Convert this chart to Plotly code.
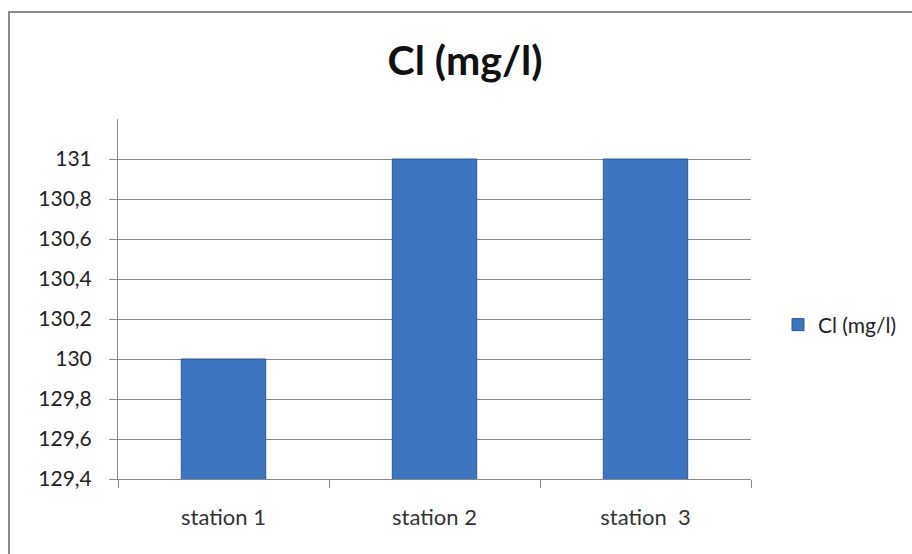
import plotly.graph_objects as go

# data
stations = ["station 1", "station 2", "station\u00a0\u00a03"]
cl_values = [130.0, 131.0, 131.0]
y_ticks = [129.4, 129.6, 129.8, 130.0, 130.2, 130.4, 130.6, 130.8, 131.0]
y_tick_labels = ["129,4", "129,6", "129,8", "130", "130,2", "130,4", "130,6", "130,8", "131"]

font_name = "Lato, 'Open Sans', sans-serif"

fig = go.Figure(go.Bar(
    x=stations,
    y=cl_values,
    name="Cl (mg/l)",
    width=0.4,
    marker=dict(color="#3D75C1", line=dict(color="#2C5791", width=1)),
    showlegend=True,
))

# plot area in pixels: x 118..751, y 119..479
W, H = 912, 554
L, R, T, B = 118, W - 751, 119, H - 479
pw, ph = W - L - R, H - T - B

fig.update_layout(
    width=W, height=H,
    margin=dict(l=L, r=R, t=T, b=B, autoexpand=False),
    paper_bgcolor="white",
    plot_bgcolor="white",
    font=dict(family=font_name, size=21, color="#222"),
    title=dict(text="<b>Cl (mg/l)</b>", x=465 / W, xanchor="center",
               y=1 - 61 / H, yanchor="middle",
               font=dict(size=41, color="#111")),
    legend=dict(x=(778 - L) / pw, y=(325 - (H - B)) / -ph, yanchor="middle",
                xanchor="left", font=dict(size=21), itemwidth=30,
                bgcolor="rgba(0,0,0,0)"),
    shapes=[dict(type="rect", xref="paper", yref="paper",
                 x0=(9 - L) / pw, x1=(W + 20 - L) / pw,
                 y0=-(H + 20 - T - ph) / ph, y1=1 + (T - 12) / ph,
                 line=dict(color="#8a8a8a", width=2), layer="below")],
)

fig.update_xaxes(
    showline=True, linecolor="#888", linewidth=1,
    ticks="outside", ticklen=8, tickcolor="#888", tickson="boundaries",
    ticklabelstandoff=19,
    tickfont=dict(size=22, color="#333"),
    showgrid=False,
)
fig.update_yaxes(
    range=[129.4, 131.2],
    tickvals=y_ticks, ticktext=y_tick_labels,
    showline=True, linecolor="#888", linewidth=1,
    ticks="outside", ticklen=8, tickcolor="#888",
    ticklabelstandoff=13,
    tickfont=dict(size=21, color="#222"),
    showgrid=True, gridcolor="#888", gridwidth=1,
    zeroline=False,
)

fig.write_html("out.html", config={"displayModeBar": False},
               post_script="document.body.style.margin='0';")
